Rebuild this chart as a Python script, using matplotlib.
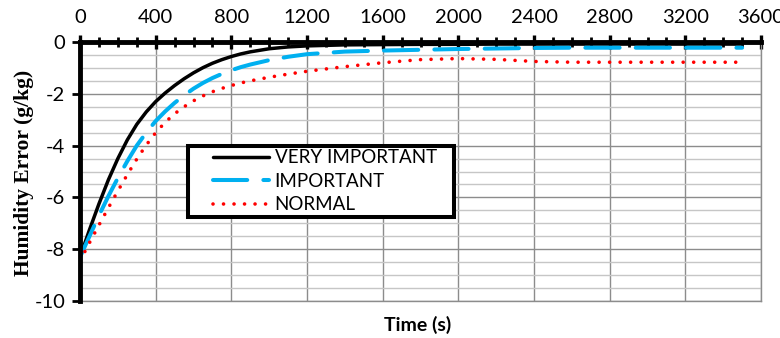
import matplotlib
matplotlib.use('Agg')
import matplotlib.pyplot as plt
from matplotlib.ticker import MultipleLocator
from matplotlib.patches import Rectangle

# values
time_s = [0, 50, 100, 150, 200, 250, 300, 350, 400, 450, 500, 550, 600, 650,
          700, 750, 800, 850, 900, 1000, 1100, 1200, 1400, 1600, 1800, 2000,
          2200, 2400, 2600, 2800, 3000, 3200, 3400, 3500]
very_important = [-8.3, -7.25, -6.25, -5.32, -4.5, -3.78, -3.18, -2.7, -2.3, -1.97,
                  -1.68, -1.42, -1.19, -0.99, -0.82, -0.68, -0.56, -0.46, -0.38,
                  -0.26, -0.19, -0.15, -0.11, -0.1, -0.09, -0.09, -0.08, -0.08,
                  -0.08, -0.08, -0.08, -0.08, -0.08, -0.08]
important = [-8.3, -7.5, -6.7, -5.95, -5.25, -4.6, -4.0, -3.5, -3.05, -2.68,
             -2.35, -2.06, -1.8, -1.58, -1.39, -1.23, -1.09, -0.97, -0.87,
             -0.7, -0.57, -0.47, -0.37, -0.33, -0.3, -0.27, -0.25, -0.23,
             -0.22, -0.22, -0.22, -0.22, -0.22, -0.22]
normal = [-8.45, -7.75, -7.07, -6.4, -5.75, -5.12, -4.52, -3.98, -3.5, -3.1,
          -2.77, -2.5, -2.27, -2.08, -1.92, -1.79, -1.68, -1.58, -1.5,
          -1.36, -1.24, -1.13, -0.95, -0.8, -0.68, -0.64, -0.67, -0.75,
          -0.78, -0.78, -0.78, -0.78, -0.78, -0.78]

plt.rcParams['font.family'] = ['Lato', 'DejaVu Sans']
plt.rcParams['axes.unicode_minus'] = False

fig = plt.figure(figsize=(7.8, 3.38), dpi=100)
ax = fig.add_axes([0.1026, 0.1095, 0.8731, 0.7662])

ax.plot(time_s, very_important, color='black', lw=2.5, solid_capstyle='round',
        label='VERY IMPORTANT', zorder=3)
ax.plot(time_s, important, color='#00b0f0', lw=2.9, ls=(0, (8.5, 4)),
        dash_capstyle='round', label='IMPORTANT', zorder=3)
ax.plot(time_s, normal, color='#ff0000', lw=2.6, ls=(0, (0.01, 2.9)),
        dash_capstyle='round', label='NORMAL', zorder=3)

ax.set_xlim(0, 3600)
ax.set_ylim(-10, 0)
ax.xaxis.set_major_locator(MultipleLocator(400))
ax.xaxis.set_minor_locator(MultipleLocator(100))
ax.yaxis.set_major_locator(MultipleLocator(2))
ax.yaxis.set_minor_locator(MultipleLocator(0.5))
ax.xaxis.tick_top()

ax.tick_params(axis='x', which='major', direction='inout', length=9.5, width=2.4,
               pad=7, labelsize=14.5, top=True, bottom=False)
ax.tick_params(axis='x', which='minor', direction='inout', length=7, width=2,
               top=True, bottom=False)
ax.tick_params(axis='y', which='major', direction='out', length=5.5, width=2,
               pad=5, labelsize=14.5)
ax.tick_params(axis='y', which='minor', length=0)

ax.set_axisbelow(True)
ax.grid(which='major', color='#8c8c8c', lw=1.0)
ax.grid(which='minor', axis='y', color='#c6c6c6', lw=1.0)

for side in ['left', 'top']:
    ax.spines[side].set_linewidth(3.5)
    ax.spines[side].set_color('black')
    ax.spines[side].set_zorder(4)
for side in ['right', 'bottom']:
    ax.spines[side].set_linewidth(1.0)
    ax.spines[side].set_color('#8c8c8c')

# legend box
ax.add_patch(Rectangle((0.1586, 0.3243), 0.3906, 0.2741, transform=ax.transAxes,
                       facecolor='white', edgecolor='black', lw=2.9, zorder=5))
leg = ax.legend(loc='upper left', bbox_to_anchor=(0.1953, 0.585), frameon=False,
                fontsize=13.5, borderpad=0, borderaxespad=0, handlelength=3.0,
                handletextpad=0.28, labelspacing=0.34)
leg.set_zorder(6)

fig.text(24 / 780, 1 - 173 / 338, 'Humidity Error (g/kg)', rotation=90,
         ha='center', va='center', family='Liberation Serif', weight='bold', size=15.5)
fig.text(418 / 780, 1 - 325 / 338, 'Time (s)', ha='center', va='center',
         weight='bold', size=14)

fig.savefig('out.png', dpi=100)
